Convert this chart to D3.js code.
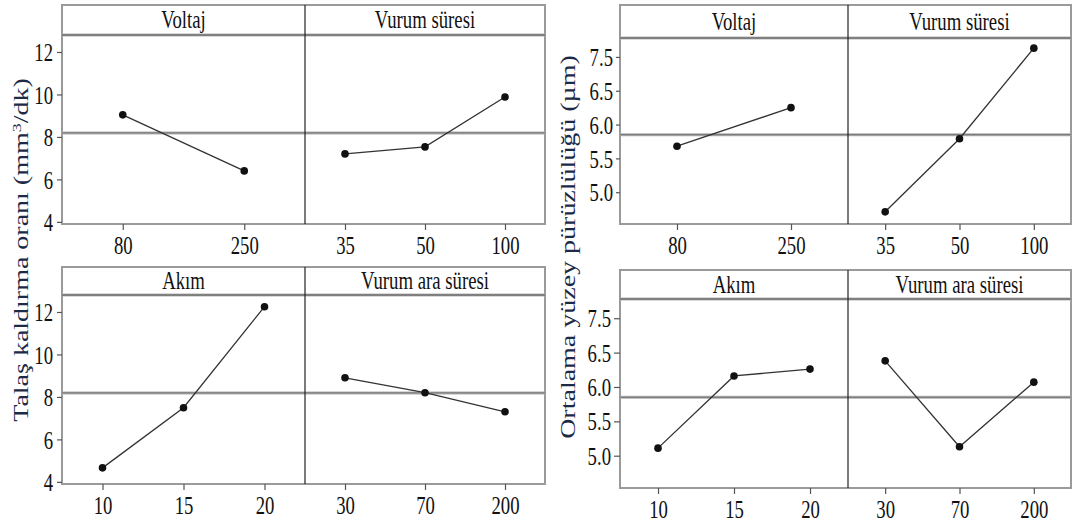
<!DOCTYPE html>
<html>
<head>
<meta charset="utf-8">
<script src="https://cdn.jsdelivr.net/npm/d3@7"></script>
<style>
  html, body { margin: 0; padding: 0; background: #fff; }
  svg { display: block; }
  text { font-family: "Liberation Serif", "Times New Roman", serif; }
</style>
</head>
<body>
<svg id="chart" width="1072" height="525"></svg>
<script>
// ---------- data ----------
const voltajLevels = ["80", "250"];
const vurumSuresiLevels = ["35", "50", "100"];
const akimLevels = ["10", "15", "20"];
const vurumAraLevels = ["30", "70", "200"];

// Talaş kaldırma oranı (mm3/dk)
const mrrVoltaj = [9.04, 6.40];
const mrrVurumSuresi = [7.20, 7.53, 9.88];
const mrrAkim = [4.66, 7.49, 12.25];
const mrrVurumAra = [8.90, 8.20, 7.30];
const mrrMean = 8.19;
const mrrTicks = [4, 6, 8, 10, 12];
const mrrTickLabels = ["4", "6", "8", "10", "12"];

// Ortalama yüzey pürüzlülüğü (µm)
const raVoltaj = [5.68, 6.25];
const raVurumSuresi = [4.71, 5.79, 7.13];
const raAkim = [5.11, 6.16, 6.26];
const raVurumAra = [6.38, 5.13, 6.07];
const raMean = 5.85;
const raTicks = [5.0, 5.5, 6.0, 6.5, 7.0];
const raTickLabels = ["5.0", "5.5", "6.0", "6.5", "7.5"];

const headers = ["Voltaj", "Vurum süresi", "Akım", "Vurum ara süresi"];

// ---------- drawing ----------
const svg = d3.select("#chart");
const SX = 0.72; // horizontal text compression seen in the reference

function drawRow(cfg) {
  const g = svg.append("g");
  const { x0, xm, x1, top, head, bottom, domain, ticks, tickLabels, mean,
          left, right, tickLen, labelGap } = cfg;
  const y = d3.scaleLinear().domain(domain).range([bottom, head]);

  // outer box
  g.append("rect").attr("x", x0).attr("y", top)
    .attr("width", x1 - x0).attr("height", bottom - top)
    .attr("fill", "none").attr("stroke", "#9a9a9a").attr("stroke-width", 2);
  // header separator
  g.append("line").attr("x1", x0).attr("x2", x1).attr("y1", head).attr("y2", head)
    .attr("stroke", "#b5b5b5").attr("stroke-width", 3);
  g.append("line").attr("x1", x0).attr("x2", x1).attr("y1", head).attr("y2", head)
    .attr("stroke", "#4a4a4a").attr("stroke-width", 1);
  // mean line
  g.append("line").attr("x1", x0).attr("x2", x1).attr("y1", y(mean)).attr("y2", y(mean))
    .attr("stroke", "#b0b0b0").attr("stroke-width", 3);
  g.append("line").attr("x1", x0).attr("x2", x1).attr("y1", y(mean)).attr("y2", y(mean))
    .attr("stroke", "#6e6e6e").attr("stroke-width", 1);
  // divider
  g.append("line").attr("x1", xm).attr("x2", xm).attr("y1", top).attr("y2", bottom)
    .attr("stroke", "#222").attr("stroke-width", 1.2);

  // y axis
  const yAxis = d3.axisLeft(y).tickValues(ticks)
    .tickFormat((d, i) => tickLabels[i]).tickSize(tickLen).tickPadding(labelGap);
  const ya = g.append("g").attr("transform", `translate(${x0},0)`).call(yAxis);
  ya.select(".domain").remove();
  ya.selectAll(".tick line").attr("stroke", "#555").attr("stroke-width", 1.2);
  ya.selectAll(".tick text").each(function () {
    const t = d3.select(this);
    const xx = +t.attr("x");
    t.attr("x", null).attr("dy", null)
      .attr("transform", `translate(${xx},0) scale(${SX},1)`)
      .attr("dominant-baseline", "central")
      .attr("font-size", 26).attr("fill", "#111")
      .attr("font-family", '"Liberation Serif", serif');
  });

  // panels
  [[x0, xm, left], [xm, x1, right]].forEach(([a, b, p]) => {
    const x = d3.scalePoint().domain(p.levels).range([a, b]).padding(0.5);
    // header text
    g.append("text")
      .attr("transform", `translate(${(a + b) / 2},${top + (head - top) / 2 + 8}) scale(0.75,1)`)
      .attr("text-anchor", "middle").attr("font-size", 25).attr("fill", "#111")
      .text(p.header);
    // x axis
    const xAxis = d3.axisBottom(x).tickSize(6).tickPadding(0);
    const xa = g.append("g").attr("transform", `translate(0,${bottom})`).call(xAxis);
    xa.select(".domain").remove();
    xa.selectAll(".tick line").attr("stroke", "#555").attr("stroke-width", 1.2);
    xa.selectAll(".tick text").each(function () {
      const t = d3.select(this);
      t.attr("y", null).attr("dy", null)
        .attr("transform", `translate(0,30) scale(${SX},1)`)
        .attr("font-size", 26).attr("fill", "#111")
        .attr("font-family", '"Liberation Serif", serif');
    });
    // data line + points
    const pts = p.levels.map((l, i) => [x(l), y(p.values[i])]);
    g.append("path").attr("d", d3.line()(pts))
      .attr("fill", "none").attr("stroke", "#333").attr("stroke-width", 1.3);
    g.selectAll(null).data(pts).enter().append("circle")
      .attr("cx", d => d[0]).attr("cy", d => d[1]).attr("r", 3.8)
      .attr("fill", "#111");
  });
}

// Left chart: Talaş kaldırma oranı
const mrrDomain = [3.9, 12.8];
drawRow({ x0: 62, xm: 305, x1: 545, top: 5, head: 35, bottom: 224,
  domain: mrrDomain, ticks: mrrTicks, tickLabels: mrrTickLabels, mean: mrrMean,
  tickLen: 5, labelGap: 4,
  left: { header: headers[0], levels: voltajLevels, values: mrrVoltaj },
  right: { header: headers[1], levels: vurumSuresiLevels, values: mrrVurumSuresi } });
drawRow({ x0: 62, xm: 305, x1: 545, top: 267, head: 295, bottom: 484,
  domain: mrrDomain, ticks: mrrTicks, tickLabels: mrrTickLabels, mean: mrrMean,
  tickLen: 5, labelGap: 4,
  left: { header: headers[2], levels: akimLevels, values: mrrAkim },
  right: { header: headers[3], levels: vurumAraLevels, values: mrrVurumAra } });

// Right chart: Ortalama yüzey pürüzlülüğü
const raDomain = [4.53, 7.28];
drawRow({ x0: 620, xm: 848, x1: 1071, top: 5, head: 38, bottom: 224,
  domain: raDomain, ticks: raTicks, tickLabels: raTickLabels, mean: raMean,
  tickLen: 4, labelGap: 3,
  left: { header: headers[0], levels: voltajLevels, values: raVoltaj },
  right: { header: headers[1], levels: vurumSuresiLevels, values: raVurumSuresi } });
drawRow({ x0: 620, xm: 848, x1: 1071, top: 270, head: 299, bottom: 488,
  domain: raDomain, ticks: raTicks, tickLabels: raTickLabels, mean: raMean,
  tickLen: 6, labelGap: 3,
  left: { header: headers[2], levels: akimLevels, values: raAkim },
  right: { header: headers[3], levels: vurumAraLevels, values: raVurumAra } });

// y-axis titles
const titleColor = "#1c2a48";
svg.append("text")
  .attr("transform", "translate(28,250) scale(0.75,1) rotate(-90)")
  .attr("text-anchor", "middle").attr("font-size", 28).attr("fill", titleColor)
  .html('Talaş kaldırma oranı (mm<tspan baseline-shift="super" font-size="18">3</tspan>/dk)');
svg.append("text")
  .attr("transform", "translate(575,247) scale(0.75,1) rotate(-90)")
  .attr("text-anchor", "middle").attr("font-size", 28).attr("fill", titleColor)
  .text("Ortalama yüzey pürüzlülüğü (µm)");
</script>
</body>
</html>
